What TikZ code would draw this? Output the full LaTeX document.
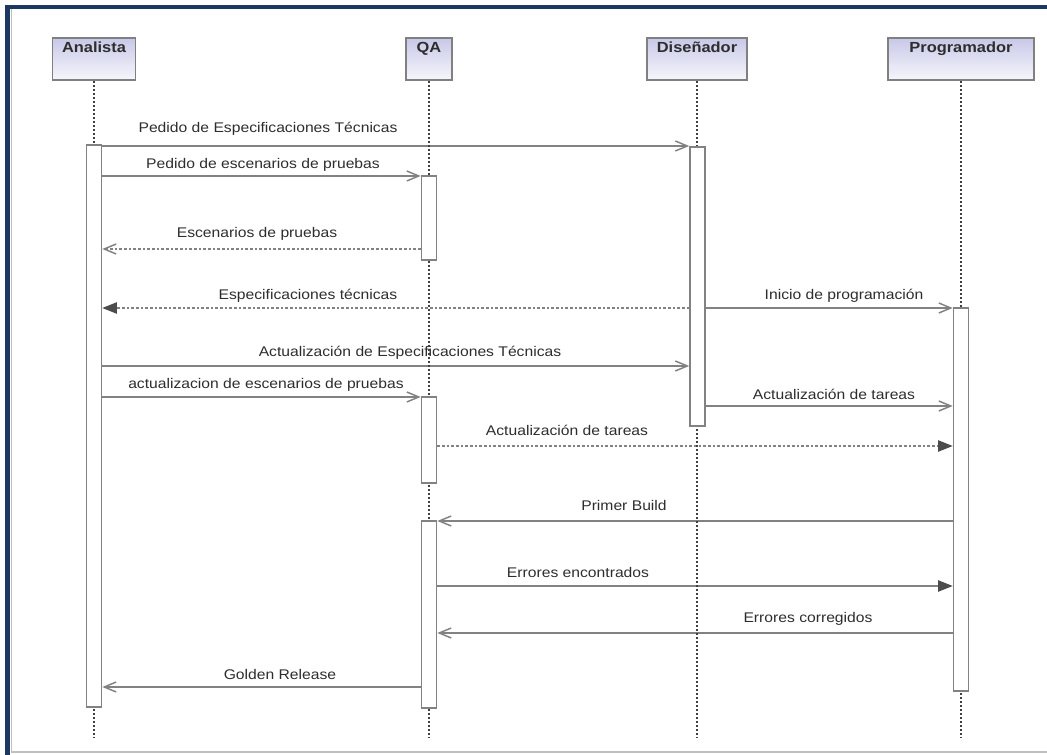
\documentclass[tikz,border=0pt]{standalone}
\usepackage{fontspec}
\setmainfont[FakeStretch=1.12]{Liberation Sans}
\usetikzlibrary{fit,arrows.meta,backgrounds}
\definecolor{frameblue}{RGB}{26,56,96}
\definecolor{headtop}{RGB}{200,200,232}
\definecolor{headbot}{RGB}{246,246,252}
\definecolor{msggray}{RGB}{130,130,130}
\definecolor{txtgray}{RGB}{45,45,45}

\begin{document}
\begin{tikzpicture}[x=0.75pt, y=-0.75pt]
    \tikzstyle{head} = [anchor=north,
				% The border:
				draw=gray, line width=1.4pt,
				% The filling:
				top color=headtop, bottom color=headbot,
				font=\fontsize{11}{13}\selectfont\bfseries, text=txtgray,
				inner ysep=2.5pt, text height=8.5pt, text depth=18pt]
    \tikzstyle{bar} = [draw=msggray, line width=1.2pt, fill=white, inner sep=0pt]
    \tikzstyle{life} = [black!75, line width=1.8pt, dash pattern=on 1.6pt off 1.4pt]
    \tikzstyle{msg} = [msggray, line width=1.1pt, -{Straight Barb[length=9pt, width=7.5pt]}]
    \tikzstyle{reply} = [msg, dash pattern=on 2pt off 1.5pt]
    \tikzstyle{filledtip} = [-{Triangle[length=11pt, width=8.5pt, color=black!70]}]
    \tikzstyle{lbl} = [anchor=base, text=txtgray, font=\fontsize{10.5}{12}\selectfont, inner sep=0pt]

    \useasboundingbox (0,0) rectangle (1047,755);
    \fill[frameblue] (5,5) rectangle (1047,9);
    \fill[frameblue] (5,5) rectangle (10,755);
    \draw[black!25, line width=1pt] (11.5,9) -- (11.5,752) -- (1047,752);

    % the four roles
    \node[head, minimum width=62.25pt] (ana) at (94,37) {Analista};
    \node[head, minimum width=34.5pt] (qa) at (429,37) {QA};
    \node[head, minimum width=75pt] (dis) at (697,37) {Diseñador};
    \node[head, minimum width=109.5pt] (prog) at (961,37) {Programador};
    \coordinate (bot) at (0,737);

    % activation bars
    \node[bar, fit={(86.5,145)(101.5,707)}] (anaB) {};
    \node[bar, fit={(421.5,176)(436.5,260)}] (qaB1) {};
    \node[bar, fit={(421.5,397)(436.5,483)}] (qaB2) {};
    \node[bar, fit={(421.5,521)(436.5,708)}] (qaB3) {};
    \node[bar, fit={(690,147)(705,426)}] (disB) {};
    \node[bar, fit={(953.5,308)(968.5,691)}] (progB) {};

    \begin{pgfonlayer}{background}
    % messages
    \draw[msg] (anaB.east |- 0,146) -- (disB.west |- 0,146);
    \node[lbl] (t1) at (268,133) {Pedido de Especificaciones Técnicas};
    \draw[msg] (anaB.east |- 0,176) -- (qaB1.west |- 0,176);
    \node[lbl] (t2) at (263,169) {Pedido de escenarios de pruebas};
    \draw[reply] (qaB1.west |- 0,249) -- (anaB.east |- 0,249);
    \node[lbl] (t3) at (257,238) {Escenarios de pruebas};
    \draw[reply, filledtip] (disB.west |- 0,308) -- (anaB.east |- 0,308);
    \node[lbl] (t4) at (308,300) {Especificaciones técnicas};
    \draw[msg] (disB.east |- 0,308) -- (progB.west |- 0,308);
    \node[lbl] (t5) at (844,300) {Inicio de programación};
    \draw[msg] (anaB.east |- 0,366) -- (disB.west |- 0,366);
    \node[lbl] (t6) at (410,357) {Actualización de Especificaciones Técnicas};
    \draw[msg] (anaB.east |- 0,397) -- (qaB2.west |- 0,397);
    \node[lbl] (t7) at (266,389) {actualizacion de escenarios de pruebas};
    \draw[msg] (disB.east |- 0,406) -- (progB.west |- 0,406);
    \node[lbl] (t8) at (834,400) {Actualización de tareas};
    \draw[reply, filledtip] (qaB2.east |- 0,446) -- (progB.west |- 0,446);
    \node[lbl] (t9) at (567,436) {Actualización de tareas};
    \draw[msg] (progB.west |- 0,521) -- (qaB3.east |- 0,521);
    \node[lbl] (t10) at (624,511) {Primer Build};
    \draw[msg, filledtip] (qaB3.east |- 0,586) -- (progB.west |- 0,586);
    \node[lbl] (t11) at (578,578) {Errores encontrados};
    \draw[msg] (progB.west |- 0,633) -- (qaB3.east |- 0,633);
    \node[lbl] (t12) at (808,623) {Errores corregidos};
    \draw[msg] (qaB3.west |- 0,687) -- (anaB.east |- 0,687);
    \node[lbl] (t13) at (280,679) {Golden Release};
    % life lines
    \foreach \n in {ana,qa,dis,prog}
        \draw[life] (\n.south) -- (\n.south |- bot);
    \end{pgfonlayer}
\end{tikzpicture}
\end{document}
